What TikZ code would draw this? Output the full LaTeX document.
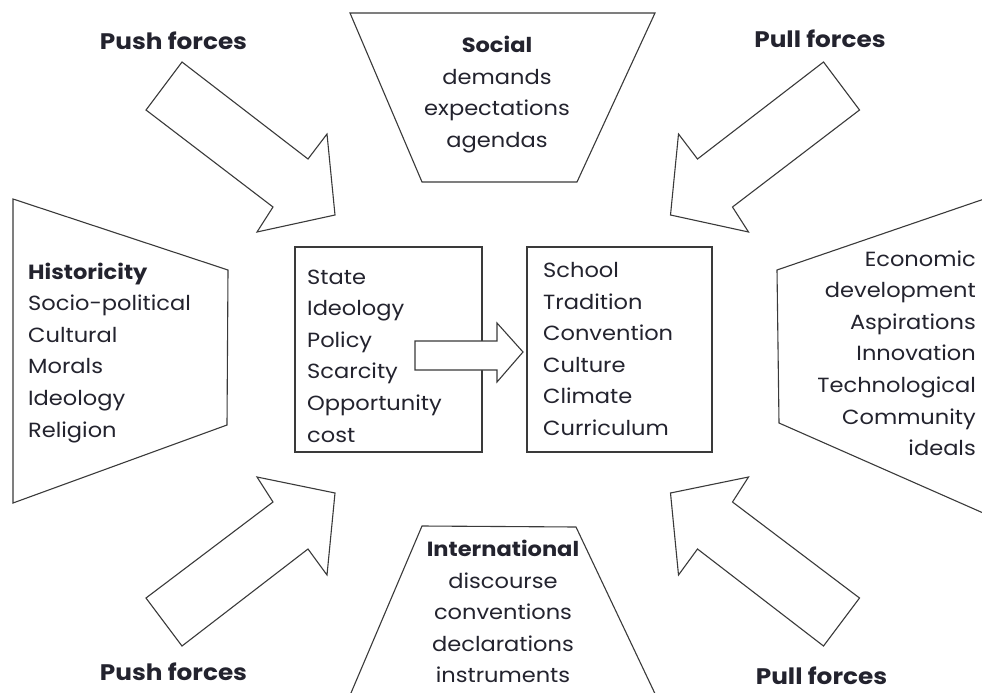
\documentclass[tikz,border=0pt]{standalone}
\usepackage{fontspec}
\setmainfont{Poppins}[FakeStretch=1.1]
\definecolor{ink}{HTML}{23232E}
\definecolor{edge}{HTML}{3A3A3A}
\begin{document}
\begin{tikzpicture}[x=1pt,y=-1pt,
  outline/.style={draw=edge,line width=1.1pt,line join=miter,fill=white},
  body/.style={inner sep=0pt,text=ink,font=\fontsize{20.5}{31.6}\selectfont},
  force/.style={inner sep=0pt,text=ink,font=\fontsize{22.5}{26}\selectfont\bfseries}]
\useasboundingbox (0,0) rectangle (982,693);
\begin{scope}
\clip (0,0) rectangle (982,693);
% side and top/bottom trapezoids
\draw[outline] (350,13) -- (655,13) -- (577,182) -- (422,182) -- cycle;
\draw[outline] (348,700) -- (422,526) -- (576,527) -- (658,700);
\draw[outline] (13,199) -- (228,270) -- (227,425) -- (13,503) -- cycle;
\draw[outline] (990,197) -- (777,270) -- (779,423) -- (990,516);
% block arrows (push forces, left; pull forces, right)
\draw[outline] (182,62) -- (146,110) -- (273,207) -- (257,232) -- (335,215) -- (327,134) -- (308,159) -- cycle;
\draw[outline] (182,646) -- (146,598) -- (273,502) -- (257,477) -- (335,493) -- (327,575) -- (308,549) -- cycle;
\draw[outline] (823.5,62) -- (859.5,110) -- (732.5,207) -- (748.5,232) -- (670.5,215) -- (678.5,134) -- (697.5,159) -- cycle;
\draw[outline] (823.5,646) -- (859.5,598) -- (732.5,502) -- (748.5,477) -- (670.5,493) -- (678.5,575) -- (697.5,549) -- cycle;
\end{scope}
% central boxes
\draw[outline] (295,247) rectangle (482,452);
\draw[outline] (527,247) rectangle (712,452);
\draw[outline] (415,341) -- (497,341) -- (497,323) -- (523,352) -- (497,382) -- (497,370) -- (415,370) -- cycle;
% texts (the base anchor sits on the last line)
\node[body,anchor=base west,align=left] (state) at (307,442)
  {State\\Ideology\\Policy\\Scarcity\\Opportunity\\cost};
\node[body,anchor=base west,align=left] (school) at (543,435.5)
  {School\\Tradition\\Convention\\Culture\\Climate\\Curriculum};
\node[body,anchor=base west,align=left] (hist) at (28,437)
  {\textbf{Historicity}\\Socio-political\\Cultural\\Morals\\Ideology\\Religion};
\node[body,anchor=base east,align=right] (pull) at (976,455.6)
  {Economic\\development\\Aspirations\\Innovation\\Technological\\Community\\ideals};
\node[body,anchor=base,align=center] (social) at (497,147.3)
  {\textbf{Social}\\demands\\expectations\\agendas};
\node[body,anchor=base,align=center] (intl) at (503,682.9)
  {\textbf{International}\\discourse\\conventions\\declarations\\instruments};
\node[force,anchor=base] (pushtl) at (173.5,50) {Push forces};
\node[force,anchor=base] (pushbl) at (173.5,680) {Push forces};
\node[force,anchor=base] (pulltr) at (820,48) {Pull forces};
\node[force,anchor=base] (pullbr) at (821.5,684) {Pull forces};
\end{tikzpicture}
\end{document}
